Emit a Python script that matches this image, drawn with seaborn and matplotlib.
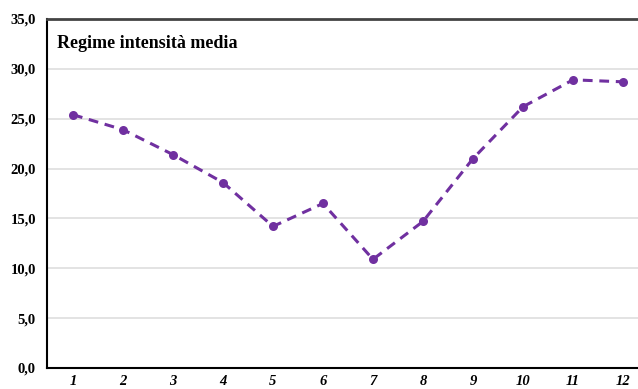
import matplotlib
matplotlib.use("Agg")
import matplotlib.pyplot as plt
import seaborn as sns
import pandas as pd

months = [1, 2, 3, 4, 5, 6, 7, 8, 9, 10, 11, 12]
values = [25.4, 23.9, 21.4, 18.6, 14.2, 16.5, 10.9, 14.7, 21.0, 26.2, 28.9, 28.7]
yticks = [0, 5, 10, 15, 20, 25, 30, 35]
title = "Regime intensità media"

df = pd.DataFrame({"mese": months, "valore": values})

sns.set_style("white")
plt.rcParams["font.family"] = ["Liberation Serif", "DejaVu Serif"]
plt.rcParams["text.color"] = "black"
plt.rcParams["xtick.color"] = "black"
plt.rcParams["ytick.color"] = "black"

fig = plt.figure(figsize=(6.38, 3.89), dpi=100)
ax = fig.add_axes([47 / 638, 21 / 389, 1 - 47 / 638, (368 - 19) / 389])

color = "#7030A0"
sns.lineplot(data=df, x="mese", y="valore", ax=ax, color=color,
             linestyle=(0, (3.2, 2.2)), linewidth=2.2, marker="o",
             markersize=6.5, markeredgewidth=0, markerfacecolor=color)

ax.set_xlim(0.48, 12.3)
ax.set_ylim(0, 35)
ax.set_yticks(yticks)
ax.set_yticklabels([f"{v:.1f}".replace(".", ",") for v in yticks],
                   fontsize=10.5, fontweight="bold")
ax.set_xticks(months)
ax.set_xticklabels([str(m) for m in months], fontsize=10.5,
                   fontweight="bold", fontstyle="italic")
ax.tick_params(axis="y", length=0, pad=8)
ax.tick_params(axis="x", length=0, pad=5)
ax.set_xlabel("")
ax.set_ylabel("")

ax.yaxis.grid(True, color="#e0e0e0", linewidth=1.3)
ax.set_axisbelow(True)

for side in ["left", "bottom"]:
    ax.spines[side].set_color("black")
    ax.spines[side].set_linewidth(1.5)
ax.spines["top"].set_color("#444444")
ax.spines["top"].set_linewidth(2)
ax.spines["right"].set_visible(False)

ax.text(0.017, 0.93, title, transform=ax.transAxes, fontsize=13,
        fontweight="bold", ha="left", va="center")

fig.savefig("out.png", dpi=100)
